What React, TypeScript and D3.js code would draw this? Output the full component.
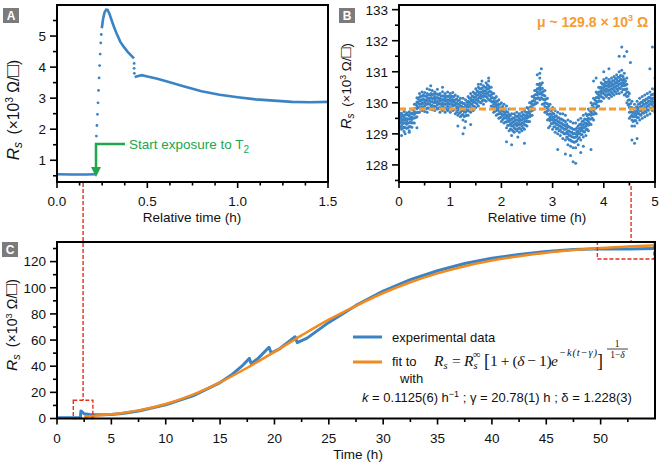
import React from "react";
import * as d3 from "d3";

const W = 661;
const H = 466;
const BLUE = "#3a83c4";
const ORANGE = "#f28a1e";
const MEAN = "#f59c33";
const RED = "#e3311f";
const GREEN = "#20a64c";
const FONT = "'Liberation Sans', Arial, sans-serif";
const SERIF = "'Liberation Serif', 'DejaVu Serif', serif";

// ---- Panel A : relative time (h) vs Rs (x10^3) ----
const aFlat = [[0, 0.55], [0.08, 0.54], [0.16, 0.54], [0.216, 0.55]];
const aRise = [[0.218, 1.78], [0.221, 2.12], [0.224, 2.48], [0.227, 2.85], [0.23, 3.25], [0.233, 3.65], [0.236, 4.05], [0.239, 4.42], [0.242, 4.78], [0.245, 5.05]];
const aPeak = [[0.248, 5.25], [0.255, 5.55], [0.263, 5.76], [0.272, 5.85], [0.28, 5.84], [0.29, 5.72], [0.3, 5.55], [0.315, 5.3], [0.33, 5.08], [0.35, 4.82], [0.37, 4.65], [0.39, 4.5], [0.41, 4.38], [0.426, 4.28]];
const aDrop = [[0.427, 4.12], [0.427, 3.96], [0.428, 3.8]];
const aTail = [[0.43, 3.68], [0.45, 3.71], [0.47, 3.74], [0.5, 3.7], [0.55, 3.63], [0.6, 3.55], [0.7, 3.38], [0.8, 3.22], [0.9, 3.11], [1.0, 3.03], [1.1, 2.96], [1.2, 2.92], [1.3, 2.88], [1.4, 2.87], [1.5, 2.88]];

// ---- Panel B : relative time (h) vs Rs, rows are [t, values...] ----
const bRows = [
  [0.00, 129.20, 129.33, 129.41, 129.52, 129.58, 129.70],
  [0.05, 129.15, 129.27, 129.38, 129.45, 129.56, 129.66],
  [0.10, 129.08, 129.22, 129.36, 129.44, 129.55, 129.72],
  [0.15, 129.18, 129.31, 129.42, 129.49, 129.61, 129.68],
  [0.20, 129.10, 129.24, 129.36, 129.47, 129.58, 129.71],
  [0.25, 129.21, 129.35, 129.46, 129.55, 129.67, 129.80],
  [0.30, 129.35, 129.51, 129.62, 129.71, 129.82, 129.95],
  [0.35, 129.55, 129.69, 129.81, 129.90, 130.03, 130.16],
  [0.40, 129.70, 129.86, 129.95, 130.06, 130.18, 130.30],
  [0.45, 129.75, 129.88, 130.01, 130.10, 130.21, 130.35],
  [0.50, 129.72, 129.90, 130.02, 130.09, 130.22, 130.33],
  [0.55, 129.70, 129.83, 129.95, 130.05, 130.17, 130.30],
  [0.60, 129.80, 129.95, 130.07, 130.15, 130.26, 130.42],
  [0.65, 129.78, 129.92, 130.04, 130.14, 130.25, 130.40],
  [0.70, 129.75, 129.90, 130.01, 130.10, 130.20, 130.35],
  [0.75, 129.80, 129.94, 130.05, 130.17, 130.28, 130.44],
  [0.80, 129.70, 129.85, 129.96, 130.05, 130.15, 130.30],
  [0.85, 129.75, 129.89, 130.00, 130.11, 130.22, 130.36],
  [0.90, 129.70, 129.84, 129.95, 130.05, 130.16, 130.30],
  [0.95, 129.75, 129.88, 130.01, 130.10, 130.20, 130.35],
  [1.00, 129.70, 129.85, 129.96, 130.05, 130.16, 130.30],
  [1.05, 129.75, 129.90, 130.02, 130.11, 130.20, 130.33],
  [1.10, 129.65, 129.80, 129.92, 130.00, 130.10, 130.25],
  [1.15, 129.60, 129.76, 129.86, 129.95, 130.06, 130.20],
  [1.20, 129.55, 129.70, 129.82, 129.90, 130.00, 130.15],
  [1.25, 129.45, 129.62, 129.76, 129.86, 129.98, 130.15],
  [1.30, 129.40, 129.58, 129.70, 129.80, 129.92, 130.10],
  [1.35, 129.60, 129.75, 129.86, 129.95, 130.05, 130.20],
  [1.40, 129.70, 129.85, 129.95, 130.05, 130.15, 130.30],
  [1.45, 129.75, 129.90, 130.02, 130.10, 130.20, 130.35],
  [1.50, 129.85, 130.00, 130.10, 130.20, 130.30, 130.45],
  [1.55, 129.90, 130.05, 130.15, 130.25, 130.36, 130.50],
  [1.60, 130.00, 130.15, 130.25, 130.35, 130.45, 130.60],
  [1.65, 129.95, 130.10, 130.20, 130.30, 130.40, 130.55],
  [1.70, 130.05, 130.20, 130.30, 130.40, 130.50, 130.65],
  [1.75, 130.10, 130.25, 130.35, 130.45, 130.55, 130.70],
  [1.80, 129.90, 130.05, 130.15, 130.25, 130.35, 130.50],
  [1.85, 129.70, 129.85, 129.95, 130.05, 130.15, 130.30],
  [1.90, 129.60, 129.75, 129.85, 129.95, 130.05, 130.20],
  [1.95, 129.50, 129.65, 129.75, 129.85, 129.95, 130.10],
  [2.00, 129.40, 129.55, 129.65, 129.75, 129.85, 130.00],
  [2.05, 129.35, 129.50, 129.60, 129.70, 129.80, 129.95],
  [2.10, 129.20, 129.38, 129.50, 129.60, 129.72, 129.90],
  [2.15, 129.10, 129.28, 129.40, 129.50, 129.62, 129.80],
  [2.20, 128.95, 129.13, 129.25, 129.35, 129.47, 129.65],
  [2.25, 129.05, 129.20, 129.30, 129.40, 129.50, 129.65],
  [2.30, 129.10, 129.25, 129.35, 129.45, 129.55, 129.70],
  [2.35, 129.05, 129.20, 129.30, 129.40, 129.50, 129.65],
  [2.40, 129.10, 129.25, 129.35, 129.45, 129.55, 129.70],
  [2.45, 129.15, 129.30, 129.40, 129.50, 129.60, 129.75],
  [2.50, 129.25, 129.40, 129.50, 129.60, 129.70, 129.85],
  [2.55, 129.40, 129.55, 129.65, 129.75, 129.85, 130.00],
  [2.60, 129.60, 129.75, 129.85, 129.95, 130.05, 130.20],
  [2.65, 129.80, 129.95, 130.05, 130.15, 130.25, 130.40],
  [2.70, 130.00, 130.15, 130.25, 130.35, 130.45, 130.60],
  [2.75, 130.10, 130.28, 130.40, 130.50, 130.62, 130.80],
  [2.80, 129.95, 130.13, 130.25, 130.35, 130.47, 130.65],
  [2.85, 129.70, 129.88, 130.00, 130.10, 130.22, 130.40],
  [2.90, 129.45, 129.63, 129.75, 129.85, 129.97, 130.15],
  [2.95, 129.25, 129.43, 129.55, 129.65, 129.77, 129.95],
  [3.00, 129.15, 129.33, 129.45, 129.55, 129.67, 129.85],
  [3.05, 129.05, 129.23, 129.35, 129.45, 129.57, 129.75],
  [3.10, 129.00, 129.18, 129.30, 129.40, 129.52, 129.70],
  [3.15, 128.95, 129.13, 129.25, 129.35, 129.47, 129.65],
  [3.20, 128.85, 129.05, 129.20, 129.30, 129.45, 129.65],
  [3.25, 128.80, 129.00, 129.15, 129.25, 129.40, 129.60],
  [3.30, 128.65, 128.85, 129.00, 129.10, 129.25, 129.45],
  [3.35, 128.60, 128.80, 128.95, 129.05, 129.20, 129.40],
  [3.40, 128.55, 128.75, 128.90, 129.00, 129.15, 129.35],
  [3.45, 128.55, 128.75, 128.90, 129.00, 129.15, 129.35],
  [3.50, 128.65, 128.85, 129.00, 129.10, 129.25, 129.45],
  [3.55, 128.80, 128.98, 129.10, 129.20, 129.32, 129.50],
  [3.60, 128.90, 129.08, 129.20, 129.30, 129.42, 129.60],
  [3.65, 128.95, 129.13, 129.25, 129.35, 129.47, 129.65],
  [3.70, 129.10, 129.28, 129.40, 129.50, 129.62, 129.80],
  [3.75, 129.30, 129.48, 129.60, 129.70, 129.82, 130.00],
  [3.80, 129.45, 129.63, 129.75, 129.85, 129.97, 130.15],
  [3.85, 129.65, 129.83, 129.95, 130.05, 130.17, 130.35],
  [3.90, 129.90, 130.05, 130.15, 130.25, 130.35, 130.50],
  [3.95, 130.05, 130.20, 130.30, 130.40, 130.50, 130.65],
  [4.00, 130.15, 130.30, 130.40, 130.50, 130.60, 130.75],
  [4.05, 130.20, 130.35, 130.45, 130.55, 130.65, 130.80],
  [4.10, 130.15, 130.30, 130.40, 130.50, 130.60, 130.75],
  [4.15, 130.20, 130.35, 130.45, 130.55, 130.65, 130.80],
  [4.20, 130.25, 130.40, 130.50, 130.60, 130.70, 130.85],
  [4.25, 130.30, 130.45, 130.55, 130.65, 130.75, 130.90],
  [4.30, 130.30, 130.48, 130.60, 130.70, 130.82, 131.00],
  [4.35, 130.35, 130.53, 130.65, 130.75, 130.87, 131.05],
  [4.40, 130.25, 130.43, 130.55, 130.65, 130.77, 130.95],
  [4.45, 130.00, 130.20, 130.35, 130.45, 130.60, 130.80],
  [4.50, 129.50, 129.70, 129.85, 129.95, 130.10, 130.30],
  [4.55, 129.25, 129.45, 129.60, 129.70, 129.85, 130.05],
  [4.60, 129.25, 129.43, 129.55, 129.65, 129.77, 129.95],
  [4.65, 129.35, 129.53, 129.65, 129.75, 129.87, 130.05],
  [4.70, 129.45, 129.63, 129.75, 129.85, 129.97, 130.15],
  [4.75, 129.50, 129.68, 129.80, 129.90, 130.02, 130.20],
  [4.80, 129.55, 129.73, 129.85, 129.95, 130.07, 130.25],
  [4.85, 129.60, 129.78, 129.90, 130.00, 130.12, 130.30],
  [4.90, 129.65, 129.83, 129.95, 130.05, 130.17, 130.35],
  [4.95, 129.75, 129.93, 130.05, 130.15, 130.27, 130.45],
  [5.00, 129.70, 129.88, 130.00, 130.10, 130.22, 130.40],
];
// in-between readings of the same cloud
const bRowsMid = [
  [0.025, 129.21, 129.36, 129.50, 129.63], [0.075, 129.18, 129.33, 129.47, 129.60], [0.125, 129.20, 129.35, 129.49, 129.62],
  [0.175, 129.20, 129.35, 129.49, 129.62], [0.225, 129.23, 129.38, 129.52, 129.65], [0.275, 129.36, 129.51, 129.65, 129.78],
  [0.325, 129.53, 129.68, 129.82, 129.95], [0.375, 129.70, 129.85, 129.99, 130.12], [0.425, 129.80, 129.95, 130.09, 130.22],
  [0.475, 129.83, 129.98, 130.12, 130.25], [0.525, 129.80, 129.95, 130.09, 130.22], [0.575, 129.83, 129.98, 130.12, 130.25],
  [0.625, 129.88, 130.03, 130.17, 130.30], [0.675, 129.86, 130.01, 130.15, 130.28], [0.725, 129.86, 130.01, 130.15, 130.28],
  [0.775, 129.83, 129.98, 130.12, 130.25], [0.825, 129.80, 129.95, 130.09, 130.22], [0.875, 129.80, 129.95, 130.09, 130.22],
  [0.925, 129.80, 129.95, 130.09, 130.22], [0.975, 129.80, 129.95, 130.09, 130.22], [1.025, 129.80, 129.95, 130.09, 130.22],
  [1.075, 129.78, 129.93, 130.07, 130.20], [1.125, 129.70, 129.85, 129.99, 130.12], [1.175, 129.66, 129.81, 129.95, 130.08],
  [1.225, 129.60, 129.75, 129.89, 130.02], [1.275, 129.56, 129.71, 129.85, 129.98], [1.325, 129.60, 129.75, 129.89, 130.02],
  [1.375, 129.73, 129.88, 130.02, 130.15], [1.425, 129.80, 129.95, 130.09, 130.22], [1.475, 129.88, 130.03, 130.17, 130.30],
  [1.525, 129.96, 130.11, 130.25, 130.38], [1.575, 130.03, 130.18, 130.32, 130.45], [1.625, 130.06, 130.21, 130.35, 130.48],
  [1.675, 130.08, 130.23, 130.37, 130.50], [1.725, 130.16, 130.31, 130.45, 130.58], [1.775, 130.08, 130.23, 130.37, 130.50],
  [1.825, 129.88, 130.03, 130.17, 130.30], [1.875, 129.73, 129.88, 130.02, 130.15], [1.925, 129.63, 129.78, 129.92, 130.05],
  [1.975, 129.53, 129.68, 129.82, 129.95], [2.025, 129.46, 129.61, 129.75, 129.88], [2.075, 129.38, 129.53, 129.67, 129.80],
  [2.125, 129.28, 129.43, 129.57, 129.70], [2.175, 129.16, 129.31, 129.45, 129.58], [2.225, 129.10, 129.25, 129.39, 129.52],
  [2.275, 129.16, 129.31, 129.45, 129.58], [2.325, 129.16, 129.31, 129.45, 129.58], [2.375, 129.16, 129.31, 129.45, 129.58],
  [2.425, 129.20, 129.35, 129.49, 129.62], [2.475, 129.28, 129.43, 129.57, 129.70], [2.525, 129.40, 129.55, 129.69, 129.82],
  [2.575, 129.58, 129.73, 129.87, 130.00], [2.625, 129.78, 129.93, 130.07, 130.20], [2.675, 129.98, 130.13, 130.27, 130.40],
  [2.725, 130.16, 130.31, 130.45, 130.58], [2.775, 130.16, 130.31, 130.45, 130.58], [2.825, 129.96, 130.11, 130.25, 130.38],
  [2.875, 129.70, 129.85, 129.99, 130.12], [2.925, 129.48, 129.63, 129.77, 129.90], [2.975, 129.33, 129.48, 129.62, 129.75],
  [3.025, 129.23, 129.38, 129.52, 129.65], [3.075, 129.16, 129.31, 129.45, 129.58], [3.125, 129.10, 129.25, 129.39, 129.52],
  [3.175, 129.06, 129.21, 129.35, 129.48], [3.225, 129.00, 129.15, 129.29, 129.42], [3.275, 128.90, 129.05, 129.19, 129.32],
  [3.325, 128.80, 128.95, 129.09, 129.22], [3.375, 128.76, 128.91, 129.05, 129.18], [3.425, 128.73, 128.88, 129.02, 129.15],
  [3.475, 128.78, 128.93, 129.07, 129.20], [3.525, 128.88, 129.03, 129.17, 129.30], [3.575, 128.98, 129.13, 129.27, 129.40],
  [3.625, 129.06, 129.21, 129.35, 129.48], [3.675, 129.16, 129.31, 129.45, 129.58], [3.725, 129.33, 129.48, 129.62, 129.75],
  [3.775, 129.50, 129.65, 129.79, 129.92], [3.825, 129.68, 129.83, 129.97, 130.10], [3.875, 129.88, 130.03, 130.17, 130.30],
  [3.925, 130.06, 130.21, 130.35, 130.48], [3.975, 130.18, 130.33, 130.47, 130.60], [4.025, 130.26, 130.41, 130.55, 130.68],
  [4.075, 130.26, 130.41, 130.55, 130.68], [4.125, 130.26, 130.41, 130.55, 130.68], [4.175, 130.30, 130.45, 130.59, 130.72],
  [4.225, 130.36, 130.51, 130.65, 130.78], [4.275, 130.40, 130.55, 130.69, 130.82], [4.325, 130.46, 130.61, 130.75, 130.88],
  [4.375, 130.43, 130.58, 130.72, 130.85], [4.425, 130.28, 130.43, 130.57, 130.70], [4.475, 129.93, 130.08, 130.22, 130.35],
  [4.525, 129.56, 129.71, 129.85, 129.98], [4.575, 129.40, 129.55, 129.69, 129.82], [4.625, 129.43, 129.58, 129.72, 129.85],
  [4.675, 129.53, 129.68, 129.82, 129.95], [4.725, 129.60, 129.75, 129.89, 130.02], [4.775, 129.66, 129.81, 129.95, 130.08],
  [4.825, 129.70, 129.85, 129.99, 130.12], [4.875, 129.76, 129.91, 130.05, 130.18], [4.925, 129.83, 129.98, 130.12, 130.25],
  [4.975, 129.86, 130.01, 130.15, 130.28],
];
const bOutliers = [[0.05, 128.95], [0.12, 129.0], [0.2, 129.05], [0.35, 129.2], [0.55, 130.45], [0.62, 130.55], [0.85, 130.5], [1.15, 129.25], [1.25, 129.0], [1.28, 129.2], [1.4, 129.3], [1.55, 130.6], [1.62, 130.7], [1.75, 130.8], [2.1, 128.75], [2.2, 128.65], [2.32, 128.9], [2.45, 128.7], [2.7, 130.9], [2.78, 131.1], [2.75, 130.95], [2.92, 129.2], [3.1, 128.5], [3.25, 128.35], [3.35, 128.3], [3.4, 128.1], [3.45, 128.05], [3.55, 128.4], [3.6, 128.6], [3.75, 128.5], [3.8, 130.7], [3.85, 130.8], [4.0, 131.0], [4.1, 131.1], [4.3, 131.5], [4.35, 131.8], [4.4, 131.5], [4.45, 131.65], [4.52, 131.3], [4.55, 128.8], [4.6, 128.7], [4.65, 128.85], [4.9, 131.1], [4.95, 131.8], [5.0, 130.8]];
const bMean = 129.8;

// ---- Panel C : time (h) vs Rs ----
const cExp = [[0, 0.5], [2.15, 0.5], [2.2, 5.8], [2.35, 4.8], [2.5, 3.6], [3, 3.0], [4, 2.8], [5, 3.1], [6, 3.9], [7.5, 5.8], [10, 10.4], [12.5, 17.3], [15, 27.5], [16, 33], [17, 40], [17.7, 46], [17.85, 42], [18.5, 46], [19.5, 54.5], [19.7, 50], [20.5, 53.5], [21.9, 62.5], [22.1, 58], [23, 61.5], [25, 73.5], [27.5, 86.5], [30, 97.5], [32.5, 106.2], [35, 113], [37.5, 118.5], [40, 122.5], [42.5, 125.5], [45, 127.8], [47.5, 129.2], [50, 129.8], [52.5, 129.6], [55, 130.1]];
const cFit = [[2.5, 1.5], [3, 1.8], [4, 2.4], [5, 3.2], [6, 4.2], [7.5, 6.2], [10, 11.1], [12.5, 18.3], [15, 27.7], [17.5, 38.8], [20, 51], [22.5, 63.6], [25, 75.6], [27.5, 86.2], [30, 96.0], [32.5, 104.2], [35, 111.0], [37.5, 116.5], [40, 120.8], [42.5, 124.1], [45, 126.8], [47.5, 128.8], [50, 130.4], [52.5, 131.6], [55, 132.5]];

// tick values
const aXMajor = [0, 0.5, 1.0, 1.5];
const aXMinor = [0.125, 0.25, 0.375, 0.625, 0.75, 0.875, 1.125, 1.25, 1.375];
const aYMajor = [1, 2, 3, 4, 5];
const aYMinor = [0.5, 1.5, 2.5, 3.5, 4.5, 5.5];
const bXMajor = [0, 1, 2, 3, 4, 5];
const bXMinor = [0.5, 1.5, 2.5, 3.5, 4.5];
const bYMajor = [128, 129, 130, 131, 132, 133];
const bYMinor = [127.5, 128.5, 129.5, 130.5, 131.5, 132.5];
const cXMajor = [0, 5, 10, 15, 20, 25, 30, 35, 40, 45, 50];
const cXMinor = [2.5, 7.5, 12.5, 17.5, 22.5, 27.5, 32.5, 37.5, 42.5, 47.5, 52.5];
const cYMajor = [0, 20, 40, 60, 80, 100, 120];
const cYMinor = [10, 30, 50, 70, 90, 110, 130];

const ax = d3.scaleLinear().domain([0, 1.5]).range([57, 328]);
const ay = d3.scaleLinear().domain([0.3, 6.0]).range([182, 5]);
const bx = d3.scaleLinear().domain([0, 5]).range([399, 655]);
const by = d3.scaleLinear().domain([127.45, 133.15]).range([182, 5]);
const cx = d3.scaleLinear().domain([0, 55]).range([57, 655]);
const cy = d3.scaleLinear().domain([0, 135]).range([418.5, 242]);

function Frame({ x, y, xMajor, xMinor, yMajor, yMinor, xFmt, yFmt }) {
  const [x0, x1] = x.range();
  const [y0, y1] = y.range();
  return (
    <g fontFamily={FONT} fontSize={13.5} fill="#111">
      {xMajor.map((v, i) => (
        <g key={"xm" + i}>
          <line x1={x(v)} x2={x(v)} y1={y0} y2={y0 + 6} stroke="#000" strokeWidth={1.6} />
          <text x={x(v)} y={y0 + 24} textAnchor="middle">{xFmt(v)}</text>
        </g>
      ))}
      {xMinor.map((v, i) => (
        <line key={"xn" + i} x1={x(v)} x2={x(v)} y1={y0} y2={y0 + 3.5} stroke="#000" strokeWidth={1.6} />
      ))}
      {yMajor.map((v, i) => (
        <g key={"ym" + i}>
          <line x1={x0 - 7} x2={x0} y1={y(v)} y2={y(v)} stroke="#000" strokeWidth={1.6} />
          <text x={x0 - 11} y={y(v)} dy="0.36em" textAnchor="end">{yFmt(v)}</text>
        </g>
      ))}
      {yMinor.map((v, i) => (
        <line key={"yn" + i} x1={x0 - 4} x2={x0} y1={y(v)} y2={y(v)} stroke="#000" strokeWidth={1.6} />
      ))}
      <rect x={x0} y={y1} width={x1 - x0} height={y0 - y1} fill="none" stroke="#000" strokeWidth={2} />
    </g>
  );
}

function YLabel({ x, y, size }) {
  return (
    <text transform={`translate(${x},${y}) rotate(-90)`} textAnchor="middle" fontFamily={FONT} fontSize={size} fill="#111">
      <tspan fontStyle="italic">R</tspan>
      <tspan fontStyle="italic" fontSize={size * 0.7} dy={size * 0.2}>s</tspan>
      <tspan dy={-size * 0.2} dx={size * 0.45} fontSize={size * 0.92}>(×10</tspan>
      <tspan fontSize={size * 0.6} dy={-size * 0.35}>3</tspan>
      <tspan dy={size * 0.35} fontSize={size * 0.92}> Ω/</tspan>
      <tspan fontSize={size * 1.15}>□</tspan>
      <tspan fontSize={size * 0.92}>)</tspan>
    </text>
  );
}

function PanelTag({ x, y, label }) {
  return (
    <g>
      <rect x={x} y={y} width={16} height={15} fill="#7b7b7b" />
      <text x={x + 8} y={y + 12} textAnchor="middle" fontFamily={FONT} fontWeight="bold" fontSize={12} fill="#fff">{label}</text>
    </g>
  );
}

export default function App() {
  const aLine = d3.line().x(d => ax(d[0])).y(d => ay(d[1]));
  const cExpLine = d3.line().x(d => cx(d[0])).y(d => cy(d[1]));
  const cFitLine = d3.line().x(d => cx(d[0])).y(d => cy(d[1])).curve(d3.curveMonotoneX);

  const bDots = [];
  [...bRows, ...bRowsMid].forEach(r => r.slice(1).forEach(v => bDots.push([r[0], v])));
  bOutliers.forEach(p => bDots.push(p));

  return (
    <div>
      <style>{"body{margin:0}"}</style>
      <svg width={W} height={H} style={{ display: "block", background: "#fff" }}>
        <defs>
          <clipPath id="clipA"><rect x={57} y={5} width={271} height={177} /></clipPath>
          <clipPath id="clipB"><rect x={399} y={5} width={256} height={177} /></clipPath>
          <clipPath id="clipC"><rect x={57} y={242} width={598} height={176.5} /></clipPath>
        </defs>

        {/* red connectors */}
        <line x1={cx(2.4)} x2={cx(2.4)} y1={183} y2={cy(14)} stroke={RED} strokeWidth={1.4} strokeDasharray="4 2" />
        <line x1={cx(52.8)} x2={cx(52.8)} y1={186} y2={242} stroke={RED} strokeWidth={1.4} strokeDasharray="4 2" />

        {/* Panel A */}
        <g clipPath="url(#clipA)">
          <path d={aLine(aFlat)} fill="none" stroke={BLUE} strokeWidth={2.6} />
          <path d={aLine(aPeak)} fill="none" stroke={BLUE} strokeWidth={2.6} />
          <path d={aLine(aTail)} fill="none" stroke={BLUE} strokeWidth={2.6} />
          {[...aRise, ...aDrop].map((d, i) => (
            <circle key={i} cx={ax(d[0])} cy={ay(d[1])} r={1.4} fill={BLUE} />
          ))}
        </g>
        <Frame x={ax} y={ay} xMajor={aXMajor} xMinor={aXMinor} yMajor={aYMajor} yMinor={aYMinor}
          xFmt={d3.format(".1f")} yFmt={d3.format("d")} />
        <YLabel x={19} y={110} size={17} />
        <text x={192} y={222} textAnchor="middle" fontFamily={FONT} fontSize={13.5} fill="#111">Relative time (h)</text>
        <PanelTag x={3} y={8} label="A" />
        <path d="M125,144 H96 V169" fill="none" stroke={GREEN} strokeWidth={2.5} />
        <path d="M91,167 L101,167 L96,177 Z" fill={GREEN} />
        <text x={129} y={149} fontFamily={FONT} fontSize={13.5} fill={GREEN}>
          Start exposure to T<tspan fontSize={10} dy={4}>2</tspan>
        </text>

        {/* Panel B */}
        <g clipPath="url(#clipB)">
          {bDots.map((d, i) => (
            <circle key={i} cx={bx(d[0])} cy={by(d[1])} r={1.5} fill={BLUE} />
          ))}
          <line x1={bx(0)} x2={bx(5)} y1={by(bMean)} y2={by(bMean)} stroke={MEAN} strokeWidth={3} strokeDasharray="7 3" />
        </g>
        <Frame x={bx} y={by} xMajor={bXMajor} xMinor={bXMinor} yMajor={bYMajor} yMinor={bYMinor}
          xFmt={d3.format("d")} yFmt={d3.format("d")} />
        <YLabel x={351} y={86} size={14.5} />
        <text x={537} y={222} textAnchor="middle" fontFamily={FONT} fontSize={13.5} fill="#111">Relative time (h)</text>
        <PanelTag x={339} y={8} label="B" />
        <text x={537} y={27} fontFamily={FONT} fontWeight="bold" fontSize={14} fill={MEAN}>
          μ ~ 129.8 × 10<tspan fontSize={9} dy={-6}>3</tspan><tspan dy={6}> Ω</tspan>
        </text>

        {/* Panel C */}
        <g clipPath="url(#clipC)">
          <path d={cExpLine(cExp)} fill="none" stroke={BLUE} strokeWidth={3} strokeLinejoin="round" />
          <path d={cFitLine(cFit)} fill="none" stroke={ORANGE} strokeWidth={2.5} />
        </g>
        <rect x={cx(1.5)} y={cy(14)} width={cx(3.3) - cx(1.5)} height={cy(0) - cy(14)} fill="none" stroke={RED} strokeWidth={1.4} strokeDasharray="4 2" />
        <rect x={cx(49.7)} y={cy(135)} width={cx(54.9) - cx(49.7)} height={cy(122) - cy(135)} fill="none" stroke={RED} strokeWidth={1.4} strokeDasharray="4 2" />
        <Frame x={cx} y={cy} xMajor={cXMajor} xMinor={cXMinor} yMajor={cYMajor} yMinor={cYMinor}
          xFmt={d3.format("d")} yFmt={d3.format("d")} />
        <YLabel x={17} y={325} size={15.5} />
        <text x={358} y={459} textAnchor="middle" fontFamily={FONT} fontSize={13.5} fill="#111">Time (h)</text>
        <PanelTag x={2} y={242} label="C" />

        {/* legend */}
        <line x1={353} x2={382} y1={337} y2={337} stroke={BLUE} strokeWidth={3} />
        <text x={392} y={341.5} fontFamily={FONT} fontSize={13} fill="#111">experimental data</text>
        <line x1={353} x2={382} y1={362} y2={362} stroke={ORANGE} strokeWidth={3} />
        <text x={392} y={366} fontFamily={FONT} fontSize={13} fill="#111">fit to</text>
        <g fontFamily={SERIF} fill="#111" fontSize={15.5}>
          <text x={434} y={366} fontStyle="italic">R<tspan fontSize={10.5} dy={3}>s</tspan></text>
          <text x={452} y={366}>=</text>
          <text x={464} y={366} fontStyle="italic">R<tspan fontSize={10.5} dy={3}>s</tspan></text>
          <text x={473} y={358} fontSize={10.5}>∞</text>
          <text x={484} y={367} fontSize={18}>[</text>
          <text x={490} y={366} textLength={68} lengthAdjust="spacing">1 + (<tspan fontStyle="italic">δ</tspan> − 1)<tspan fontStyle="italic">e</tspan></text>
          <text x={559} y={356} fontSize={10.5} fontStyle="italic" textLength={38} lengthAdjust="spacing">−k(t−γ)</text>
          <text x={597} y={367} fontSize={18}>]</text>
          <text x={617} y={346.5} fontSize={9.5} textAnchor="middle">1</text>
          <line x1={607} x2={628} y1={349} y2={349} stroke="#111" strokeWidth={0.8} />
          <text x={617.5} y={357.5} fontSize={9.5} textAnchor="middle">1−<tspan fontStyle="italic">δ</tspan></text>
        </g>
        <text x={400} y={383} fontFamily={FONT} fontSize={13} fill="#111">with</text>
        <text x={362} y={402} fontFamily={FONT} fontSize={13} fill="#111">
          <tspan fontStyle="italic">k</tspan> = 0.1125(6) h<tspan fontSize={9} dy={-5}>−1</tspan><tspan dy={5}> ; γ = 20.78(1) h ; δ = 1.228(3)</tspan>
        </text>
      </svg>
    </div>
  );
}
